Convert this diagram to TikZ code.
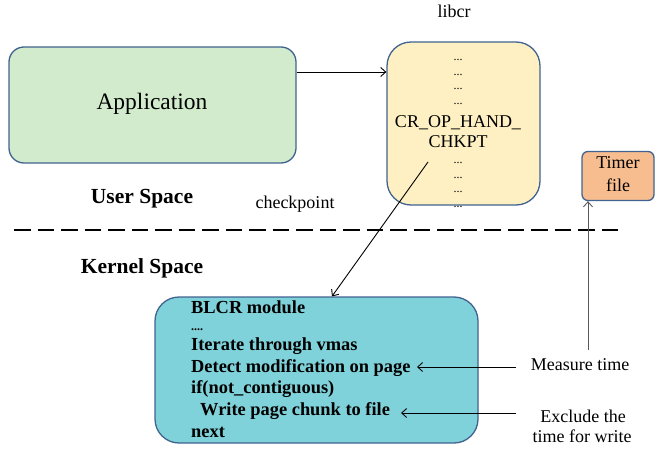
\documentclass[tikz,border=0pt]{standalone}
\usepackage{fontspec}
\setmainfont{Liberation Serif}
\usetikzlibrary{arrows.meta}
\definecolor{bord}{HTML}{41638F}
\definecolor{appfill}{HTML}{D1EBCC}
\definecolor{libfill}{HTML}{FEF0C3}
\definecolor{blcrfill}{HTML}{80D2DA}
\definecolor{timfill}{HTML}{F7BD8F}
\tikzset{
  boxst/.style={draw=bord, line width=1.3pt, inner sep=0pt},
  conn/.style={-{Straight Barb[length=5pt,width=9pt,line width=0.9pt]}, line width=0.9pt},
  plain/.style={inner sep=0pt, anchor=base},
  txt/.style={plain, font=\fontsize{18}{20}\selectfont},
  dotst/.style={plain, font=\fontsize{12}{13}\selectfont},
  blcrline/.style={inner sep=0pt, anchor=base west, font=\bfseries\fontsize{18.4}{21}\selectfont},
}
\begin{document}
\begin{tikzpicture}[x=1pt,y=-1pt]
\useasboundingbox (0,0) rectangle (655,449);
% boxes
\node[boxst, fill=appfill, rounded corners=15pt, minimum width=287pt, minimum height=116pt] (app) at (152.5,105) {};
\node[plain, font=\fontsize{23.5}{26}\selectfont] (apptxt) at (152,110) {Application};
\node[boxst, fill=libfill, rounded corners=24pt, minimum width=153pt, minimum height=163pt] (lib) at (463.5,123.5) {};
\foreach \i/\yy in {1/61,2/75.5,3/90,4/104.5,5/164,6/178.5,7/193,8/207.5}
  \node[dotst] (dots\i) at (458,\yy) {...};
\node[txt] (crop) at (458,128) {CR\_OP\_HAND\_};
\node[txt] (chkpt) at (458,148) {CHKPT};
\node[txt] (libcr) at (454,18) {libcr};
\node[boxst, fill=timfill, rounded corners=6pt, minimum width=72pt, minimum height=49pt] (timer) at (618,176) {};
\node[txt] (timer1) at (618,168) {Timer};
\node[txt] (timer2) at (618,191) {file};
\node[plain, font=\bfseries\fontsize{21.5}{24}\selectfont] (user) at (142,203) {User Space};
\node[txt] (chk) at (295,208) {checkpoint};
\node[plain, font=\bfseries\fontsize{21.5}{24}\selectfont] (kern) at (142,273) {Kernel Space};
\coordinate (dl) at (14,230);
\coordinate (dr) at (624,230);
\draw[line width=2pt, dash pattern=on 16.5pt off 7pt] (dl) -- (dr);
\node[boxst, fill=blcrfill, rounded corners=24pt, minimum width=323pt, minimum height=146pt] (blcr) at (316.5,370) {};
\node[blcrline] (b1) at (191,313) {BLCR module};
\node[blcrline, font=\bfseries\fontsize{12}{13}\selectfont] (b2) at (191,330) {....};
\node[blcrline] (b3) at (191,350) {Iterate through vmas};
\node[blcrline] (b4) at (191,372) {Detect modification on page};
\node[blcrline] (b5) at (191,393) {if(not\_contiguous)};
\node[blcrline] (b6) at (200,415) {Write page chunk to file};
\node[blcrline] (b7) at (191,437) {next};
\node[txt] (meas) at (580,370) {Measure time};
\node[txt] (excl1) at (583,422) {Exclude the};
\node[txt] (excl2) at (582,442) {time for write};
% connectors
\draw[conn] (app.east |- 0,72) -- (lib.west |- 0,72);
\coordinate (libout) at (428,162);
\draw[conn] (libout) -- (blcr.north -| 332,0);
\coordinate (m1) at (588,350);
\draw[conn, draw=black!65] (m1) -- (timer.south -| 588,0);
\coordinate (a1s) at (516,367);
\coordinate (a1e) at (417,367);
\draw[conn] (a1s) -- (a1e);
\coordinate (a2s) at (516,413);
\coordinate (a2e) at (401,413);
\draw[conn] (a2s) -- (a2e);
\end{tikzpicture}
\end{document}
